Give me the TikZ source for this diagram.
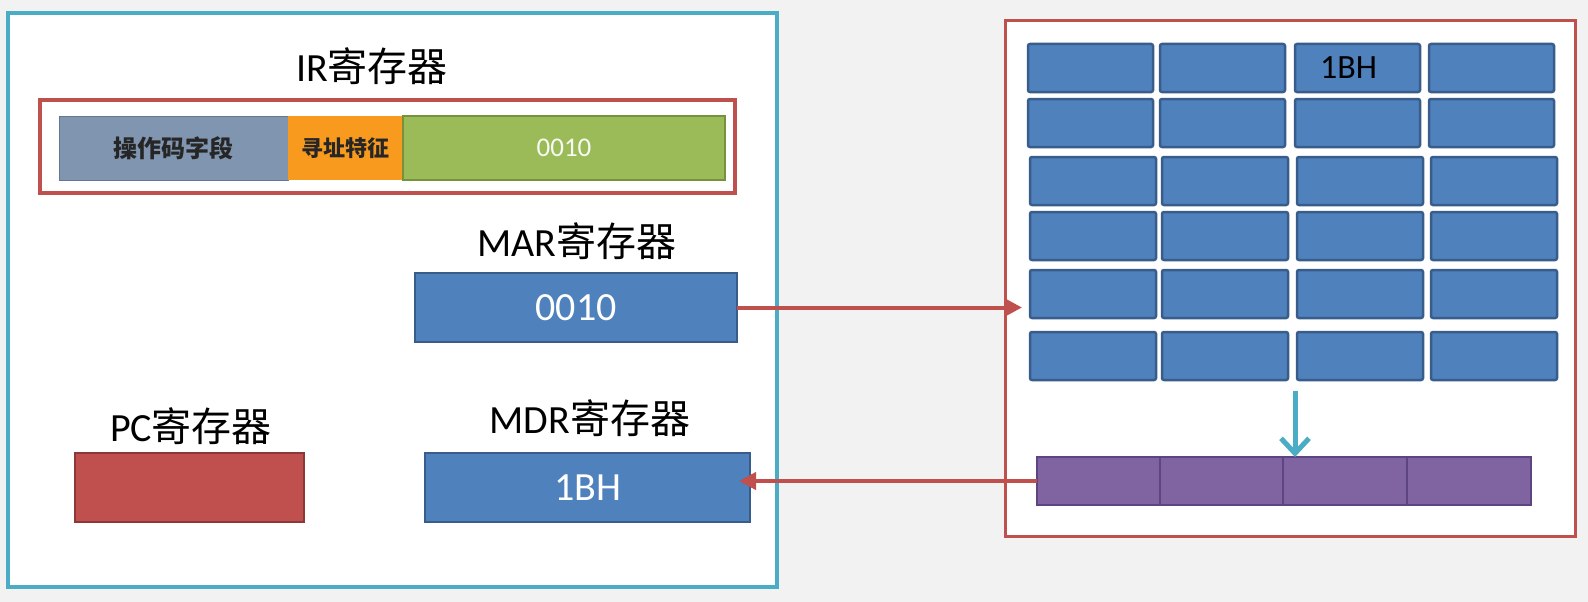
\documentclass[tikz,border=0pt]{standalone}
\usepackage{fontspec}
\setmainfont{Carlito}
\newfontfamily\cjk{Noto Sans CJK SC}
\usetikzlibrary{arrows.meta,calc}
\definecolor{bgc}{HTML}{F2F2F2}
\definecolor{cteal}{HTML}{4BACC6}
\definecolor{cred}{HTML}{C0504D}
\definecolor{cdred}{HTML}{8C3836}
\definecolor{cblue}{HTML}{4F81BD}
\definecolor{cdblue}{HTML}{385D8A}
\definecolor{cgray}{HTML}{8095B0}
\definecolor{corange}{HTML}{F89A1E}
\definecolor{cgreen}{HTML}{9BBB59}
\definecolor{cdgreen}{HTML}{76923C}
\definecolor{cpurple}{HTML}{8064A2}
\definecolor{cdpurple}{HTML}{5C4580}
\begin{document}
\begin{tikzpicture}[x=1pt,y=-1pt,
  box/.style={anchor=north west, inner sep=0pt, outer sep=0pt},
  lbl/.style={inner sep=0pt, text=black, font=\fontsize{40}{48}\selectfont},
  bluebox/.style={box, fill=cblue, draw=cdblue, line width=2.5pt, text=white, font=\fontsize{40}{48}\selectfont},
  cell/.style={box, fill=cblue, draw=cdblue, line width=2.5pt, rounded corners=2pt, minimum height=48pt},
  pcell/.style={box, fill=cpurple, draw=cdpurple, line width=2pt, minimum height=48pt},
  redarrow/.style={draw=cred, line width=4pt, -{Triangle[length=17pt,width=17pt]}},
  tealarrow/.style={draw=cteal, line width=5pt, -{Straight Barb[length=15pt,width=28pt]}}
]
\useasboundingbox (0,0) rectangle (1588,602);
\fill[bgc] (0,0) rectangle (1588,602);

% left panel
\node[box, fill=white, draw=cteal, line width=4pt, minimum width=769pt, minimum height=574pt] (cpu) at (8,13) {};

% IR register
\node[lbl] (irt) at (372,66) {IR{\cjk 寄存器}};
\node[box, draw=cred, line width=4pt, minimum width=695pt, minimum height=93pt] (irbox) at (40,100) {};
\node[box, fill=cgray, draw=cgray!80!black, line width=1pt, minimum width=229pt, minimum height=64pt,
      text=black!85, font=\cjk\bfseries\fontsize{24}{30}\selectfont] (op) at (59,116) {操作码字段};
\node[box, fill=corange, minimum width=115pt, minimum height=64pt,
      text=black!85, font=\cjk\bfseries\fontsize{22}{28}\selectfont] (mode) at (288,116) {寻址特征};
\node[box, fill=cgreen, draw=cdgreen, line width=1.5pt, minimum width=322pt, minimum height=64pt,
      text=white!92!cgreen, font=\fontsize{27}{32}\selectfont] (addr) at (403,116) {0010};

% MAR
\node[lbl] (mart) at (577,241) {MAR{\cjk 寄存器}};
\node[bluebox, minimum width=322pt, minimum height=69pt] (mar) at (415,273) {0010};

% PC
\node[lbl] (pct) at (191,426) {PC{\cjk 寄存器}};
\node[box, fill=cred, draw=cdred, line width=2.5pt, minimum width=229pt, minimum height=69pt] (pc) at (75,453) {};

% MDR
\node[lbl] (mdrt) at (590,418) {MDR{\cjk 寄存器}};
\node[bluebox, minimum width=325pt, minimum height=69pt] (mdr) at (425,453) {1BH};

% memory panel
\node[box, fill=white, draw=cred, line width=3pt, minimum width=570pt, minimum height=515pt] (mem) at (1005,21) {};
\foreach \r/\y/\dx/\w in {1/44/0/125, 2/99/0/125, 3/157/2/126, 4/212/2/126, 5/270/2/126, 6/332/2/126} {
  \foreach \c/\x in {1/1028, 2/1160, 3/1295, 4/1429} {
    \node[cell, minimum width=\w pt] (c\r\c) at (\x+\dx,\y) {};
  }
}
\node[inner sep=0pt, text=black, font=\fontsize{34}{40}\selectfont] (t1bh) at ($(c13.center)+(-9,0)$) {1BH};

% data buffer row
\node[pcell, minimum width=123pt] (p1) at (1037,457) {};
\node[pcell, minimum width=123pt] (p2) at (1160,457) {};
\node[pcell, minimum width=124pt] (p3) at (1283,457) {};
\node[pcell, minimum width=124pt] (p4) at (1407,457) {};

% arrows
\draw[redarrow, shorten >=8pt] (mar.east) -- (mar.east -| c51.west);
\draw[redarrow, shorten >=-11pt] (p1.west) -- (p1.west -| mdr.east);
\coordinate (tt) at (1295,391);
\draw[tealarrow] (tt) -- (tt |- p3.north);
\end{tikzpicture}
\end{document}
